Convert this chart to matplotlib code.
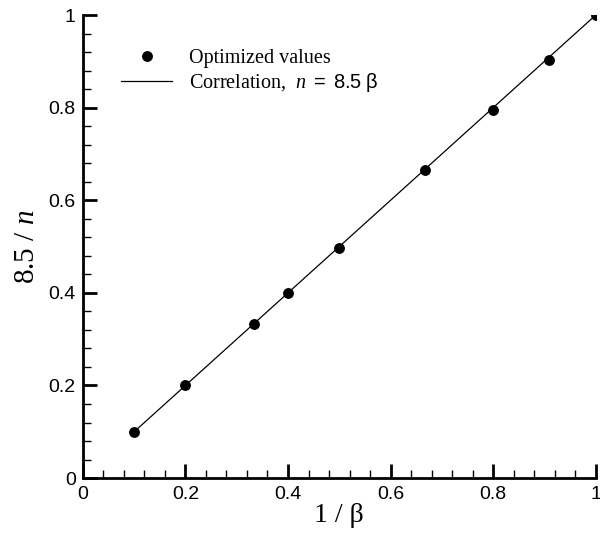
import matplotlib.pyplot as plt
from matplotlib.ticker import MultipleLocator

plt.rcParams['mathtext.fontset'] = 'custom'
plt.rcParams['mathtext.rm'] = 'Liberation Sans'
plt.rcParams['mathtext.it'] = 'Liberation Serif:italic'

# Optimized values
inv_beta = [0.1, 0.2, 0.333, 0.4, 0.5, 0.667, 0.8, 0.909, 1.0]
opt_vals = [0.1, 0.202, 0.333, 0.4, 0.497, 0.665, 0.795, 0.902, 1.0]

# Correlation line n = 8.5 beta  ->  8.5/n = 1/beta
corr_x = [0.1, 1.0]
corr_y = [0.1, 1.0]

ticks = [0, 0.2, 0.4, 0.6, 0.8, 1.0]
tick_labels = ['0', '0.2', '0.4', '0.6', '0.8', '1']

fig = plt.figure(figsize=(6, 5.36), dpi=100)
ax = fig.add_axes([0.138, 0.108, 0.855, 0.864])

ax.plot(corr_x, corr_y, color='black', linewidth=0.9,
        label=r'Correlation,  $\mathit{n}\ \mathrm{=\ 8.5\ \beta}$')
ax.plot(inv_beta, opt_vals, 'o', color='black', markersize=6.8,
        label='Optimized values')

ax.set_xlim(0, 1)
ax.set_ylim(0, 1)
ax.set_xticks(ticks, tick_labels)
ax.set_yticks(ticks, tick_labels)
ax.xaxis.set_minor_locator(MultipleLocator(0.04))
ax.yaxis.set_minor_locator(MultipleLocator(0.04))

for side in ['top', 'right']:
    ax.spines[side].set_visible(False)
for side in ['left', 'bottom']:
    ax.spines[side].set_linewidth(2)

ax.tick_params(which='major', direction='in', length=10, width=2, labelsize=14)
ax.tick_params(axis='x', which='major', pad=6)
ax.tick_params(axis='y', which='major', pad=5)
ax.tick_params(which='minor', direction='in', length=6, width=1)
for lbl in ax.get_xticklabels() + ax.get_yticklabels():
    lbl.set_fontfamily('Liberation Sans')

ax.set_xlabel(r'1 / β', fontsize=20, family='Liberation Serif', labelpad=0)
ax.set_ylabel(r'8.5 / $\mathit{n}$', fontsize=21, family='Liberation Serif', labelpad=6)

handles, labels = ax.get_legend_handles_labels()
leg = ax.legend(handles[::-1], labels[::-1], loc='upper left',
                bbox_to_anchor=(0.04, 0.965), frameon=False,
                prop={'family': 'Liberation Serif', 'size': 14.5},
                handlelength=2.5, handletextpad=0.85,
                markerscale=1.0, labelspacing=0.15)

fig.savefig('out.png', dpi=100)
